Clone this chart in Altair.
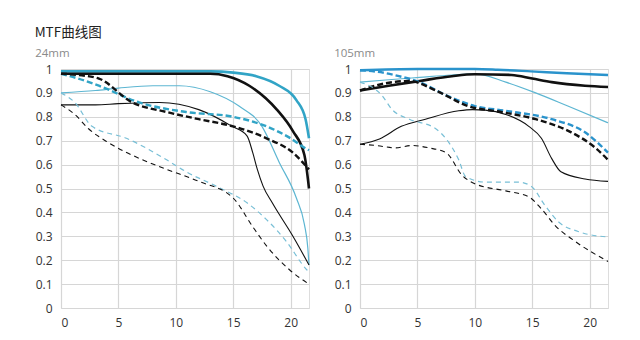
import altair as alt
import pandas as pd

# ---- 24mm panel (x = distance from centre, mm; y = MTF) ----
w_s10_x = [0, 5, 10, 13, 15, 17, 19, 20.5, 21.3, 21.6]
w_s10_y = [0.99, 0.99, 0.99, 0.99, 0.985, 0.97, 0.93, 0.87, 0.79, 0.71]
w_m10_x = [0, 5, 10, 13, 14.5, 16.4, 18.8, 20.2, 21.2, 21.6]
w_m10_y = [0.98, 0.98, 0.98, 0.98, 0.97, 0.93, 0.83, 0.74, 0.64, 0.50]
w_s30_x = [0, 3, 5, 8, 10.3, 13, 15.5, 17.5, 19, 20.5, 21.2, 21.5, 21.6]
w_s30_y = [0.90, 0.91, 0.92, 0.93, 0.93, 0.905, 0.845, 0.76, 0.61, 0.46, 0.35, 0.25, 0.18]
w_m30_x = [0, 3, 5, 8.6, 12, 14.9, 16.2, 16.7, 17.1, 17.6, 18.4, 20.2, 21.6]
w_m30_y = [0.85, 0.85, 0.855, 0.86, 0.83, 0.76, 0.72, 0.65, 0.58, 0.51, 0.44, 0.30, 0.18]
w_s10d_x = [0, 1.5, 3.3, 6.8, 10.9, 15, 17.9, 20, 21.4, 21.6]
w_s10d_y = [0.98, 0.96, 0.93, 0.86, 0.82, 0.80, 0.76, 0.71, 0.665, 0.66]
w_m10d_x = [0, 1.5, 3.3, 6.2, 9.2, 12, 15, 17.9, 20.2, 21.6]
w_m10d_y = [0.98, 0.975, 0.96, 0.86, 0.82, 0.79, 0.76, 0.71, 0.65, 0.58]
w_s30d_x = [0, 1.2, 2.7, 5.7, 9.2, 10.9, 13.5, 16.2, 17.9, 19.6, 21.4, 21.6]
w_s30d_y = [0.90, 0.86, 0.76, 0.71, 0.62, 0.57, 0.51, 0.44, 0.37, 0.28, 0.16, 0.15]
w_m30d_x = [0, 1.2, 2.4, 4.2, 7.1, 9.2, 12, 15, 16.7, 17.9, 19.9, 21.6]
w_m30d_y = [0.85, 0.81, 0.75, 0.69, 0.62, 0.58, 0.53, 0.46, 0.34, 0.26, 0.16, 0.10]

# ---- 105mm panel ----
t_s10_x = [0, 5, 10, 12, 14.9, 18, 21.6]
t_s10_y = [0.995, 1.0, 1.0, 0.997, 0.99, 0.982, 0.975]
t_s30_x = [0, 2.5, 5.2, 8, 10, 12.7, 15.3, 18.1, 21.6]
t_s30_y = [0.945, 0.955, 0.965, 0.975, 0.98, 0.945, 0.90, 0.845, 0.775]
t_m10_x = [0, 2.5, 5.2, 8, 10, 13.2, 15, 16.7, 19.6, 21.6]
t_m10_y = [0.91, 0.93, 0.95, 0.97, 0.978, 0.975, 0.96, 0.945, 0.93, 0.925]
t_m10d_x = [0, 2.2, 4.3, 6.6, 9.4, 12.3, 15.3, 18.4, 20.5, 21.6]
t_m10d_y = [0.91, 0.94, 0.95, 0.91, 0.845, 0.82, 0.79, 0.735, 0.67, 0.62]
t_s10d_x = [0, 2, 3.4, 5.2, 7.5, 10, 12.7, 16.7, 19.6, 21.6]
t_s10d_y = [0.995, 0.985, 0.97, 0.945, 0.89, 0.845, 0.825, 0.79, 0.735, 0.65]
t_s30d_x = [0, 1.9, 2.8, 4.3, 6.6, 7.7, 8.6, 9.2, 10.9, 13.8, 14.9, 16.1, 17.3, 19, 21.6]
t_s30d_y = [0.945, 0.89, 0.83, 0.79, 0.75, 0.695, 0.62, 0.55, 0.527, 0.527, 0.51, 0.43, 0.36, 0.32, 0.297]
t_m30d_x = [0, 1.4, 3.1, 4.5, 6, 7.5, 8.9, 10, 12.7, 14.7, 15.8, 17, 18.7, 21.6]
t_m30d_y = [0.685, 0.68, 0.67, 0.68, 0.67, 0.65, 0.555, 0.52, 0.49, 0.465, 0.415, 0.345, 0.28, 0.195]
t_m30_x = [0, 1.7, 3.6, 5.7, 8.6, 9.8, 10.9, 12.7, 14.7, 15.8, 16.7, 17.5, 19.6, 21.6]
t_m30_y = [0.685, 0.707, 0.76, 0.79, 0.825, 0.83, 0.828, 0.81, 0.76, 0.71, 0.625, 0.57, 0.54, 0.53]

x_ticks = [0, 5, 10, 15, 20]
y_ticks = [0, 0.1, 0.2, 0.3, 0.4, 0.5, 0.6, 0.7, 0.8, 0.9, 1]

BLACK = "#111111"
BLUE_L = "#31a4c6"
BLUE_R = "#2a93cc"
BLUE_THIN = "#5db6d2"
BLUE_THIN_D = "#78bfd6"

def series(name, xs, ys):
    return pd.DataFrame({"s": name, "x": xs, "y": ys})

left_specs = [
    ("s10", w_s10_x, w_s10_y, BLUE_L, 2.6, []),
    ("m10", w_m10_x, w_m10_y, BLACK, 2.6, []),
    ("s30", w_s30_x, w_s30_y, BLUE_THIN, 1.2, []),
    ("m30", w_m30_x, w_m30_y, BLACK, 1.1, []),
    ("s10d", w_s10d_x, w_s10d_y, BLUE_L, 2.4, [6, 3]),
    ("m10d", w_m10d_x, w_m10d_y, BLACK, 2.4, [6, 3]),
    ("s30d", w_s30d_x, w_s30d_y, BLUE_THIN_D, 1.2, [5, 4]),
    ("m30d", w_m30d_x, w_m30d_y, BLACK, 1.1, [5, 4]),
]
right_specs = [
    ("s10", t_s10_x, t_s10_y, BLUE_R, 2.4, []),
    ("s30", t_s30_x, t_s30_y, BLUE_THIN, 1.2, []),
    ("m10", t_m10_x, t_m10_y, BLACK, 2.6, []),
    ("m30", t_m30_x, t_m30_y, BLACK, 1.1, []),
    ("s10d", t_s10d_x, t_s10d_y, BLUE_R, 2.4, [6, 3]),
    ("m10d", t_m10d_x, t_m10d_y, BLACK, 2.4, [6, 3]),
    ("s30d", t_s30d_x, t_s30d_y, BLUE_THIN_D, 1.2, [5, 4]),
    ("m30d", t_m30d_x, t_m30d_y, BLACK, 1.1, [5, 4]),
]

xscale = alt.Scale(domain=[0, 21.6], nice=False, zero=False)
yscale = alt.Scale(domain=[0, 1], nice=False)
xaxis = alt.Axis(values=x_ticks, title=None, grid=True, domain=False, ticks=False,
                 labelPadding=9, labelFontSize=12, labelColor="#333333",
                 gridColor="#d6d6d6", gridWidth=1.2, labelFont="Open Sans")
yaxis = alt.Axis(values=y_ticks, title=None, grid=True, domain=False, ticks=False,
                 labelPadding=9, labelFontSize=12, labelColor="#333333", format="~g",
                 gridColor="#d6d6d6", gridWidth=1.2, labelFont="Open Sans")

def panel(specs, title):
    layers = []
    for name, xs, ys, col, w, dash in specs:
        kw = dict(color=col, strokeWidth=w, interpolate="monotone")
        if dash:
            kw["strokeDash"] = dash
        layers.append(
            alt.Chart(series(name, xs, ys)).mark_line(**kw).encode(
                x=alt.X("x:Q", scale=xscale, axis=xaxis),
                y=alt.Y("y:Q", scale=yscale, axis=yaxis),
            )
        )
    return alt.layer(*layers).properties(
        width=248, height=239,
        title=alt.TitleParams(title, anchor="start", frame="bounds", fontSize=11.5,
                              color="#8a8a8a", fontWeight="normal", font="Open Sans",
                              offset=4),
    )

chart = alt.hconcat(panel(left_specs, "24mm"), panel(right_specs, "105mm"), spacing=18).properties(
    title=alt.TitleParams("MTF曲线图", anchor="start", fontSize=13.5, fontWeight="normal",
                          color="#222222", font="Noto Sans CJK SC", offset=8),
    padding={"left": 34, "top": 25, "right": 5, "bottom": 5},
).configure_view(stroke="#d6d6d6", strokeWidth=1.2).configure(background="white")

chart.save("out.html", embed_options={"renderer": "svg", "actions": False})
